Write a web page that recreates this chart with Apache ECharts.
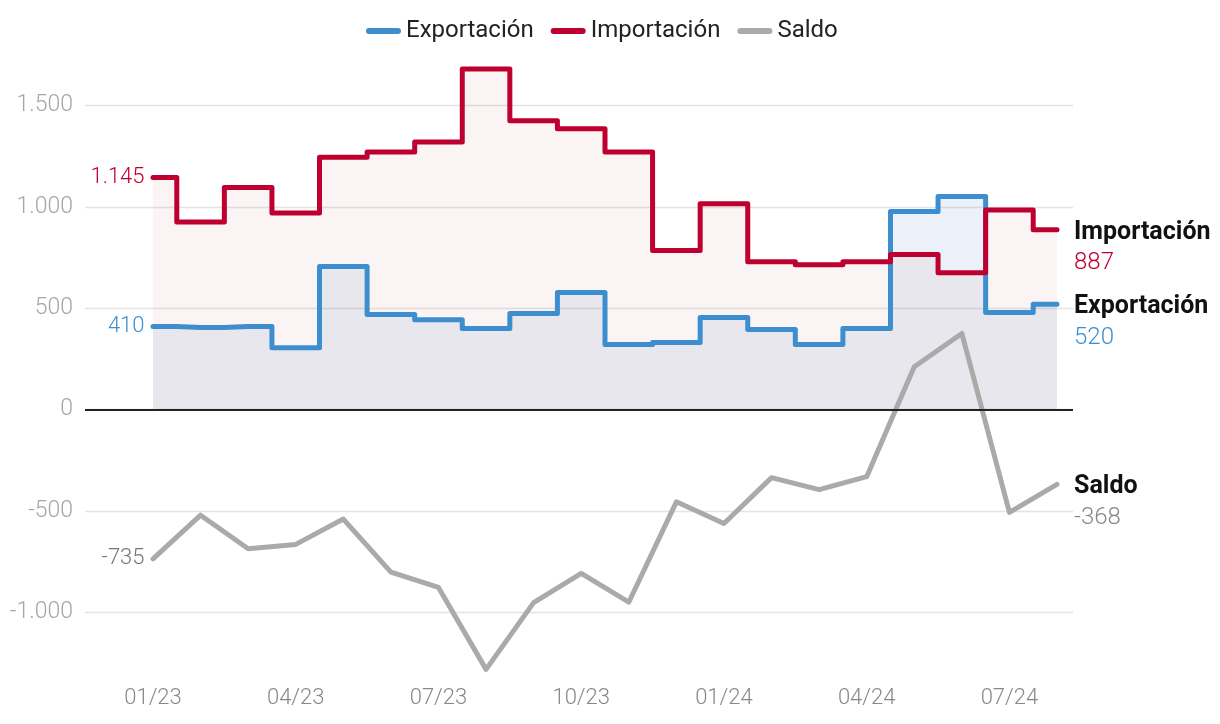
<!DOCTYPE html>
<html>
<head>
<meta charset="utf-8">
<script src="https://cdn.jsdelivr.net/npm/echarts@6/dist/echarts.min.js"></script>
<style>
html, body { margin: 0; padding: 0; background: #fff; }
#main { width: 1220px; height: 724px; }
</style>
</head>
<body>
<div id="main"></div>
<script>
// datos mensuales
const meses = ['01/23','02/23','03/23','04/23','05/23','06/23','07/23','08/23','09/23','10/23','11/23','12/23',
               '01/24','02/24','03/24','04/24','05/24','06/24','07/24','08/24'];
const exportacion = [410, 405, 410, 306, 706, 469, 444, 400, 474, 578, 321, 331, 454, 395, 321, 400, 977, 1051, 479, 520];
const importacion = [1145, 925, 1095, 970, 1245, 1270, 1320, 1680, 1425, 1385, 1270, 785, 1015, 730, 715, 730, 765, 675, 985, 887];
const saldo = [-735, -520, -685, -664, -539, -801, -876, -1280, -951, -807, -949, -454, -561, -335, -394, -330, 212, 376, -506, -368];

const AZUL = '#3d8ecf';
const ROJO = '#be0031';
const GRIS = '#aaaaaa';
const FONT = 'Roboto';

function fmt(v) {
    const s = Math.abs(v).toString().replace(/\B(?=(\d{3})+(?!\d))/g, '.');
    return (v < 0 ? '-' : '') + s;
}

// primer punto con etiqueta a la izquierda
function conEtiqueta(vals, color) {
    return vals.map(function (v, i) {
        if (i !== 0) return v;
        return {
            value: v,
            symbol: 'circle',
            symbolSize: 1,
            label: {
                show: true, position: 'left', distance: 8,
                color: color, fontFamily: FONT, fontSize: 22, fontWeight: 300,
                padding: [2, 0, 0, 0],
                formatter: function (p) { return fmt(p.value); }
            }
        };
    });
}

function etiquetaFinal(nombre, color) {
    return {
        show: true,
        distance: 17,
        offset: [0, 18],
        formatter: function (p) { return '{n|' + nombre + '}\n{v|' + fmt(p.value) + '}'; },
        rich: {
            n: { fontFamily: FONT, fontSize: 25, fontWeight: 'bold', color: '#111', lineHeight: 31 },
            v: { fontFamily: FONT, fontSize: 24, fontWeight: 300, color: color, lineHeight: 31 }
        }
    };
}

var myChart = echarts.init(document.getElementById('main'));

var option = {
    animation: false,
    backgroundColor: '#fff',
    legend: {
        top: 14,
        left: 361,
        itemWidth: 35,
        itemHeight: 6,
        itemGap: 17,
        icon: 'path://M3,0 L32,0 A3,3 0 0 1 32,6 L3,6 A3,3 0 0 1 3,0 Z',
        textStyle: { fontFamily: FONT, fontSize: 24, color: '#222' },
        data: ['Exportación', 'Importación', 'Saldo']
    },
    grid: [
        { left: 85, right: 147, top: 4, bottom: 10 },
        { left: 153, right: 163, top: 4, bottom: 10 }
    ],
    xAxis: [
        { gridIndex: 0, type: 'value', show: false, min: 0, max: 1 },
        {
            gridIndex: 1, type: 'category', data: meses, boundaryGap: false,
            position: 'bottom', offset: -27,
            axisLine: { show: false }, axisTick: { show: false },
            axisLabel: { interval: 2, color: '#888', fontFamily: FONT, fontSize: 22, fontWeight: 300, margin: 0 }
        }
    ],
    yAxis: [
        {
            gridIndex: 0, type: 'value', min: -1500, max: 2000, interval: 500,
            axisLine: { show: false }, axisTick: { show: false },
            axisLabel: {
                color: '#a6a6a6', fontFamily: FONT, fontSize: 23, fontWeight: 300, margin: 12,
                lineHeight: 30, verticalAlign: 'middle', padding: [5, 0, 0, 0],
                formatter: function (v) { return (v === -1500 || v === 2000) ? '' : fmt(v); }
            },
            splitLine: {
                showMinLine: false, showMaxLine: false,
                lineStyle: { color: '#e4e4e4', width: 1.3 }
            }
        },
        { gridIndex: 1, type: 'value', min: -1500, max: 2000, interval: 500, show: false }
    ],
    series: [
        {
            name: 'Exportación', type: 'line', step: 'middle',
            xAxisIndex: 1, yAxisIndex: 1,
            data: conEtiqueta(exportacion, AZUL),
            showSymbol: true, symbol: 'none',
            color: AZUL,
            lineStyle: { width: 5, color: AZUL, cap: 'round', join: 'round' },
            areaStyle: { color: 'rgba(38,97,188,0.12)', origin: 0 },
            endLabel: etiquetaFinal('Exportación', AZUL)
        },
        {
            name: 'Importación', type: 'line', step: 'middle',
            xAxisIndex: 1, yAxisIndex: 1,
            data: conEtiqueta(importacion, ROJO),
            showSymbol: true, symbol: 'none',
            color: ROJO,
            lineStyle: { width: 5, color: ROJO, cap: 'round', join: 'round' },
            areaStyle: { color: 'rgba(195,105,95,0.1)', origin: 0 },
            endLabel: etiquetaFinal('Importación', ROJO)
        },
        {
            name: 'Saldo', type: 'line',
            xAxisIndex: 1, yAxisIndex: 1,
            data: conEtiqueta(saldo, '#777'),
            showSymbol: true, symbol: 'none',
            color: GRIS,
            lineStyle: { width: 5, color: GRIS, cap: 'round', join: 'round' },
            endLabel: etiquetaFinal('Saldo', '#888')
        },
        {
            // línea del cero a todo el ancho
            name: 'cero', type: 'line', xAxisIndex: 0, yAxisIndex: 0,
            data: [], silent: true, z: 1,
            markLine: {
                silent: true, symbol: 'none', label: { show: false },
                lineStyle: { color: '#222', width: 2, type: 'solid' },
                data: [{ yAxis: 0 }]
            }
        }
    ]
};

myChart.setOption(option);
</script>
</body>
</html>
